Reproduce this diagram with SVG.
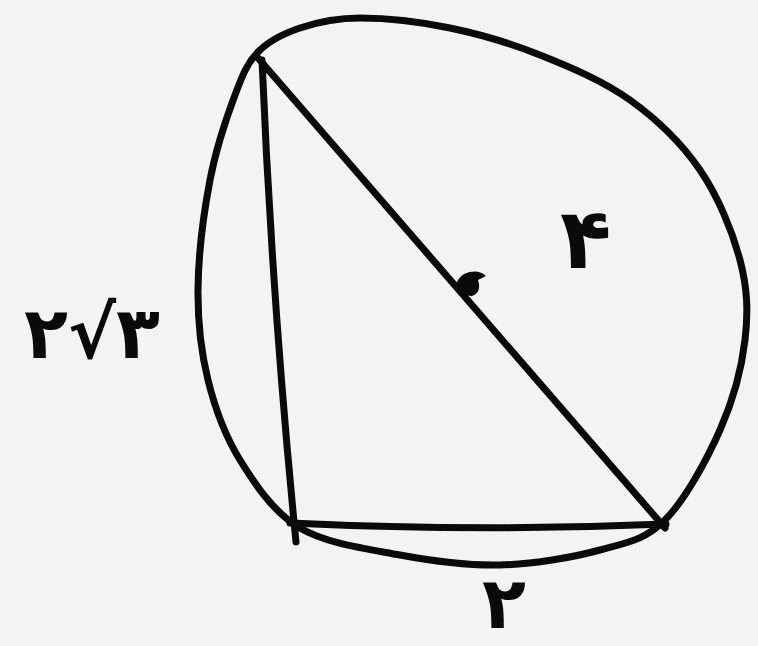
<svg xmlns="http://www.w3.org/2000/svg" width="758" height="646" viewBox="0 0 758 646">
<style>
.ink{fill:none;stroke:#0a0a0a;stroke-width:7;stroke-linecap:round;stroke-linejoin:round}
.lbl{font-family:"DejaVu Sans",sans-serif;font-weight:bold;fill:#0a0a0a}
</style>
<rect width="758" height="646" fill="#f3f3f3"/>
<g id="circle">
<path class="ink" d="M258,52 C268.8,40.8 283,33.7 300,28 S335,18 360,18 S420,21.8 450,28 S510,43 540,55 S603.3,80.8 630,100 S681.7,143.3 700,170 S732.5,231.7 740,260 S748.3,311.7 745,340 S733.3,400 720,430 S685,500 665,520 S627.5,542.5 600,550 S533.3,564.2 500,565 S433.3,561.2 400,555 S326.7,543.8 300,528 S255.3,484.7 240,460 S215,408.3 208,380 S197.7,323.3 198,290 S203.8,212.5 210,180 S227,116.3 235,95 S247.2,63.2 258,52 Z"/>
</g>
<g id="triangle">
<path class="ink" d="M262,60 Q272,300 296,542"/>
<path class="ink" d="M290,523 Q480,532 666,524"/>
<path class="ink" d="M258,58 L665,528"/>
</g>
<g id="center">
<path fill="#0a0a0a" d="M455,288 Q458,274 470,272 Q480,270 486,276 L478,280 Q482,292 472,296 Q460,296 455,288 Z"/>
</g>
<g id="labels">
<text class="lbl" x="24" y="358" font-size="72">۲√۳</text>
<text class="lbl" x="560" y="268" font-size="84">۴</text>
<text class="lbl" x="482" y="628" font-size="72">۲</text>
</g>
</svg>
